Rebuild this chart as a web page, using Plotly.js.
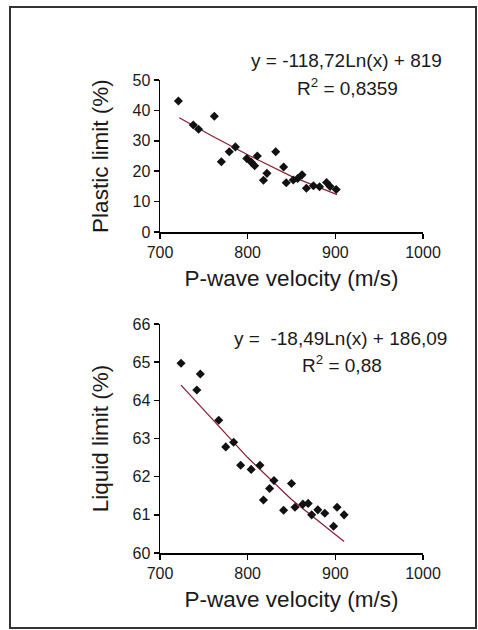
<!DOCTYPE html>
<html>
<head>
<meta charset="utf-8">
<script src="https://cdn.plot.ly/plotly-3.0.1.min.js"></script>
<style>html,body{margin:0;padding:0;background:#fff;}#chart{width:478px;height:630px;}</style>
</head>
<body>
<div id="chart"></div>
<script>
// Top panel: Plastic limit vs P-wave velocity
const plasticVelocity = [721, 738, 744, 762, 770, 779, 786, 799, 804, 808, 811, 818, 822, 832, 841, 844, 852, 857, 862, 867, 875, 882, 890, 894, 901];
const plasticLimit    = [43.1, 35.2, 33.8, 38.1, 23.1, 26.4, 28.0, 24.2, 23.0, 21.8, 25.0, 17.0, 19.3, 26.4, 21.4, 16.2, 17.1, 17.6, 18.8, 14.4, 15.2, 14.9, 16.3, 15.0, 14.0];
const plasticTrendX   = [722, 760, 800, 850, 902];
const plasticTrendY   = [37.6, 31.5, 25.4, 18.3, 12.3];

// Bottom panel: Liquid limit vs P-wave velocity
const liquidVelocity = [724, 742, 746, 767, 775, 784, 792, 804, 814, 818, 825, 830, 841, 850, 854, 863, 869, 873, 880, 888, 898, 902, 910];
const liquidLimit    = [64.97, 64.27, 64.69, 63.48, 62.78, 62.90, 62.30, 62.19, 62.30, 61.39, 61.69, 61.90, 61.12, 61.82, 61.20, 61.28, 61.30, 61.00, 61.13, 61.04, 60.70, 61.20, 61.00];
const liquidTrendX   = [724, 760, 800, 850, 910];
const liquidTrendY   = [64.4, 63.5, 62.5, 61.4, 60.3];

const xTicks = [700, 800, 900, 1000];
const plasticTicks = [0, 10, 20, 30, 40, 50];
const liquidTicks = [60, 61, 62, 63, 64, 65, 66];

const FONT = 'Liberation Sans, Arial, sans-serif';
const TXT = '#1a1a1a';
const markerStyle = {symbol: 'diamond', size: 7, color: '#111'};
const trendStyle = {color: '#8b2233', width: 1.3};

const traces = [
  {x: plasticTrendX, y: plasticTrendY, mode: 'lines', line: trendStyle, xaxis: 'x', yaxis: 'y', hoverinfo: 'skip'},
  {x: plasticVelocity, y: plasticLimit, mode: 'markers', marker: markerStyle, xaxis: 'x', yaxis: 'y'},
  {x: liquidTrendX, y: liquidTrendY, mode: 'lines', line: trendStyle, xaxis: 'x2', yaxis: 'y2', hoverinfo: 'skip'},
  {x: liquidVelocity, y: liquidLimit, mode: 'markers', marker: markerStyle, xaxis: 'x2', yaxis: 'y2'}
];

function xAxis(anchor) {
  return {
    domain: [160/478, 423/478], range: [700, 1000], anchor: anchor,
    tickvals: xTicks, ticks: 'outside', ticklen: 5, tickwidth: 1.5, tickcolor: '#000',
    showline: true, linecolor: '#000', linewidth: 1.5, showgrid: false, zeroline: false,
    tickfont: {family: FONT, size: 16, color: TXT},
    title: {text: 'P-wave velocity (m/s)', font: {family: FONT, size: 22.5, color: TXT}, standoff: 10},
    automargin: false
  };
}
function yAxis(anchor, domain, range, ticks, title) {
  return {
    domain: domain, range: range, anchor: anchor,
    tickvals: ticks, ticks: 'outside', ticklen: 5, tickwidth: 1.5, tickcolor: '#000',
    showline: true, linecolor: '#000', linewidth: 1.5, showgrid: false, zeroline: false,
    tickfont: {family: FONT, size: 16, color: TXT},
    title: {text: title, font: {family: FONT, size: 22.5, color: TXT}, standoff: 17},
    automargin: false
  };
}

function note(text, px, py) {
  return {text: text, x: px/478, y: 1 - py/630, xref: 'paper', yref: 'paper', xanchor: 'center', yanchor: 'middle',
          showarrow: false, font: {family: FONT, size: 19, color: TXT}};
}

const layout = {
  width: 478, height: 630,
  margin: {l: 0, r: 0, t: 0, b: 0},
  paper_bgcolor: '#fff', plot_bgcolor: '#fff',
  showlegend: false,
  xaxis: xAxis('y'),
  yaxis: yAxis('x', [1 - 232/630, 1 - 80/630], [0, 50], plasticTicks, 'Plastic limit (%)'),
  xaxis2: xAxis('y2'),
  yaxis2: yAxis('x2', [1 - 553/630, 1 - 324/630], [60, 66], liquidTicks, 'Liquid limit (%)'),
  annotations: [
    note('y = -118,72Ln(x) + 819', 346, 60),
    note('R<sup>2</sup> = 0,8359', 347, 87),
    note('y =  -18,49Ln(x) + 186,09', 340, 338),
    note('R<sup>2</sup> = 0,88', 342, 364)
  ],
  shapes: [
    {type: 'rect', xref: 'paper', yref: 'paper', x0: 10/478, x1: 476/478, y0: 1 - 628/630, y1: 1 - 7/630, line: {color: '#333', width: 2}}
  ]
};

Plotly.newPlot('chart', traces, layout, {staticPlot: true, displayModeBar: false});
</script>
</body>
</html>
